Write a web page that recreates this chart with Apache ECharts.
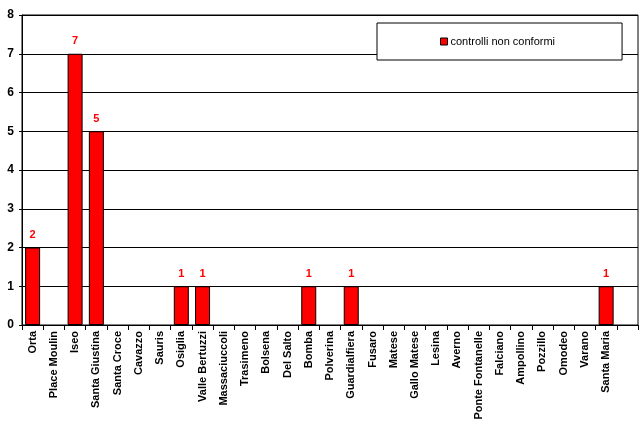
<!DOCTYPE html>
<html><head><meta charset="utf-8">
<script src="https://cdn.jsdelivr.net/npm/echarts@6/dist/echarts.min.js"></script>
<style>html,body{margin:0;padding:0;background:#fff}#c{width:642px;height:427px}</style>
</head><body><div id="c"></div>
<script>
const categories = ['Orta','Place Moulin','Iseo','Santa Giustina','Santa Croce','Cavazzo','Sauris','Osiglia','Valle Bertuzzi','Massaciuccoli','Trasimeno','Bolsena','Del Salto','Bomba','Polverina','Guardialfiera','Fusaro','Matese','Gallo Matese','Lesina','Averno','Ponte Fontanelle','Falciano','Ampollino','Pozzillo','Omodeo','Varano','Santa Maria',''];
const values = [2,0,7,5,0,0,0,1,1,0,0,0,0,1,0,1,0,0,0,0,0,0,0,0,0,0,0,1,null];
const seriesName = 'controlli non conformi';
const yTicks = {min:0, max:8, interval:1};

const barData = values.map(v => (v === 0 ? {value:v, itemStyle:{borderWidth:0}} : v));

const chart = echarts.init(document.getElementById('c'), null, {renderer:'canvas'});
chart.setOption({
  backgroundColor:'#fff',
  animation:false,
  textStyle:{fontFamily:'Liberation Sans, Arial, sans-serif'},
  grid:{left:22, right:4, top:15, bottom:102, show:true, borderColor:'#000', borderWidth:1, backgroundColor:'#fff'},
  legend:{
    left:377, top:23, padding:[13,67,13,63],
    backgroundColor:'#fff', borderColor:'#000', borderWidth:1,
    itemWidth:7, itemHeight:7, itemGap:3,
    textStyle:{fontSize:11, color:'#000', fontFamily:'Liberation Sans, Arial, sans-serif', padding:[0,0,0,-2]},
    data:[{name:seriesName, icon:'rect', itemStyle:{borderColor:'#000', borderWidth:1}}]
  },
  xAxis:{
    type:'category', data:categories, boundaryGap:true,
    axisLine:{lineStyle:{color:'#000', width:1}},
    axisTick:{show:true, length:5, interval:0, lineStyle:{color:'#000'}},
    axisLabel:{interval:0, rotate:90, fontSize:11, fontWeight:'bold', color:'#000', margin:6}
  },
  yAxis:{
    type:'value', min:yTicks.min, max:yTicks.max, interval:yTicks.interval,
    axisLine:{show:true, lineStyle:{color:'#000'}},
    axisTick:{show:true, length:3, lineStyle:{color:'#000'}},
    splitLine:{lineStyle:{color:'#000', width:1}},
    axisLabel:{fontSize:12, fontWeight:'bold', color:'#000', margin:8}
  },
  series:[{
    name:seriesName, type:'bar', data:barData, barWidth:15,
    itemStyle:{color:'#ff0000', borderColor:'#000', borderWidth:1},
    label:{show:true, position:'top', distance:7, color:'#ff0000', fontWeight:'bold', fontSize:11,
      formatter:p => (p.value ? String(p.value) : '')}
  }]
});
</script></body></html>
